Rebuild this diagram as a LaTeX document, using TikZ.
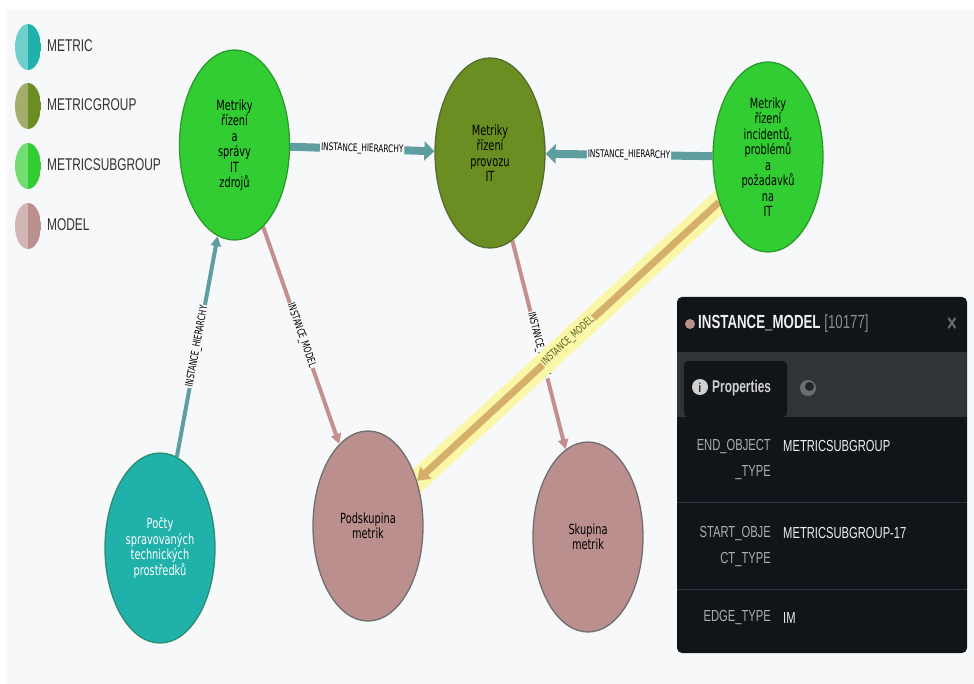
\documentclass[tikz,border=0pt]{standalone}
\usepackage{fontspec}
\usetikzlibrary{shapes.geometric,arrows.meta}
\newfontfamily\nodefont{DejaVu Sans}[FakeStretch=0.7]
\newfontfamily\uifont{Liberation Sans}[FakeStretch=0.7]

\definecolor{bgcol}{HTML}{F7F8FA}
\definecolor{metricC}{HTML}{20B2AA}
\definecolor{metricL}{HTML}{6FCFCA}
\definecolor{metricB}{HTML}{2A8F6A}
\definecolor{groupC}{HTML}{6B8E23}
\definecolor{groupL}{HTML}{A2AE6C}
\definecolor{groupB}{HTML}{556B2F}
\definecolor{subgroupC}{HTML}{32CD32}
\definecolor{subgroupL}{HTML}{72DE72}
\definecolor{subgroupB}{HTML}{2A9A2A}
\definecolor{modelC}{HTML}{BC8F8F}
\definecolor{modelL}{HTML}{D4B5B5}
\definecolor{modelB}{HTML}{6E6E6E}
\definecolor{hiercol}{HTML}{5F9EA0}
\definecolor{modelcol}{HTML}{C4908F}
\definecolor{glowcol}{HTML}{FAF7A8}
\definecolor{pickedC}{HTML}{D4B06A}
\definecolor{pickedtext}{HTML}{5C5C1A}
\definecolor{legtextcol}{HTML}{333333}
\definecolor{panelC}{HTML}{111519}
\definecolor{tabbarC}{HTML}{303337}
\definecolor{sepC}{HTML}{2B3540}
\definecolor{keyC}{HTML}{A9ADB0}
\definecolor{valC}{HTML}{EEEEEE}
\definecolor{idcol}{HTML}{8C8C8C}
\definecolor{closeC}{HTML}{6A6E72}
\definecolor{iconC}{HTML}{D0D0D0}

\pgfdeclarelayer{back}
\pgfdeclarelayer{edges}
\pgfsetlayers{back,edges,main}

\begin{document}
\begin{tikzpicture}[x=1pt, y=-1pt, line join=round,
  mnode/.style={ellipse, draw, line width=1.3pt, minimum width=110pt, minimum height=190pt,
    inner sep=0pt, align=center, font=\nodefont\fontsize{14}{15.5}\selectfont},
  hier/.style={draw=hiercol, line width=8pt, -{Triangle[length=10pt,width=19pt]}},
  hierthin/.style={draw=hiercol, line width=4pt, -{Triangle[length=10pt,width=10pt]}},
  model/.style={draw=modelcol, line width=4pt, -{Triangle[length=10pt,width=10pt]}},
  glow/.style={draw=glowcol, line width=22pt},
  picked/.style={draw=pickedC, line width=7pt, -{Triangle[length=12pt,width=16pt]}},
  elabel/.style={fill=bgcol, inner sep=1pt, sloped, font=\nodefont\fontsize{10.5}{11}\selectfont},
  legtext/.style={anchor=west, inner sep=0pt, text=legtextcol, font=\uifont\fontsize{17}{20}\selectfont},
  pkey/.style={anchor=east, inner sep=0pt, align=right, text=keyC, font=\uifont\fontsize{16}{26}\selectfont},
  pval/.style={anchor=west, inner sep=0pt, text=valC, font=\uifont\fontsize{16}{26}\selectfont}]

  % ════ background ════
  \begin{pgfonlayer}{back}
    \fill[bgcol] (7,10) rectangle (974,684);
  \end{pgfonlayer}

  % ════ legend (two-tone ellipses) ════
  \foreach \yy/\cl/\cd/\name in {47/metricL/metricC/METRIC, 106/groupL/groupC/METRICGROUP,
                                 166/subgroupL/subgroupC/METRICSUBGROUP, 226/modelL/modelC/MODEL} {
    \begin{scope}
      \clip (28,\yy) ellipse (13 and 23);
      \fill[\cl] (15,\yy-23) rectangle (28,\yy+23);
      \fill[\cd] (28,\yy-23) rectangle (41,\yy+23);
    \end{scope}
    \node[legtext] (leg-\name) at (47,\yy-1) {\name};
  }

  % ════ nodes ════
  \node[mnode, fill=subgroupC, draw=subgroupB] (spravy) at (234.5,145) {Metriky\\řízení\\a\\správy\\IT\\zdrojů};
  \node[mnode, fill=groupC, draw=groupB] (provoz) at (490,153) {Metriky\\řízení\\provozu\\IT};
  \node[mnode, fill=subgroupC, draw=subgroupB] (incid) at (768,157) {Metriky\\řízení\\incidentů,\\problémů\\a\\požadavků\\na\\IT};
  \node[mnode, fill=metricC, draw=metricB, text=white] (pocty) at (160,548) {Počty\\spravovaných\\technických\\prostředků};
  \node[mnode, fill=modelC, draw=modelB] (podsk) at (368,526) {Podskupina\\metrik};
  \node[mnode, fill=modelC, draw=modelB] (skup) at (588,537) {Skupina\\metrik};

  % ════ edges (below the nodes) ════
  \begin{pgfonlayer}{edges}
    \draw[hier] (spravy) -- node[elabel] {INSTANCE\_HIERARCHY} (provoz);
    \draw[hier] (incid) -- node[elabel] {INSTANCE\_HIERARCHY} (provoz);
    \draw[hierthin] (pocty) -- node[elabel] {INSTANCE\_HIERARCHY} (spravy);
    \draw[model] (spravy) -- node[elabel] {INSTANCE\_MODEL} (podsk);
    \draw[model] (provoz) -- node[elabel] {INSTANCE\_MODEL} (skup);
    % selected edge: yellow halo under the line
    \draw[glow] (incid.center) -- (podsk.center);
    \draw[picked] (incid) -- node[elabel, fill=glowcol, text=pickedtext] {INSTANCE\_MODEL} (podsk);
  \end{pgfonlayer}

  % ════ detail panel ════
  \fill[panelC, rounded corners=5pt] (677,297) rectangle (967,653);
  \fill[tabbarC] (677,352) rectangle (967,417);
  \fill[panelC, rounded corners=4pt] (684,417) -- (684,361) -- (787,361) -- (787,417) -- cycle;
  \draw[sepC, line width=1pt] (677,502) -- (967,502);
  \draw[sepC, line width=1pt] (677,589) -- (967,589);

  \fill[modelC] (690,324) circle (5);
  \node[anchor=west, inner sep=0pt, text=valC, font=\uifont\fontsize{19}{22}\selectfont] (title) at (698,324)
    {{\bfseries INSTANCE\_MODEL} \textcolor{idcol}{[10177]}};
  \node[inner sep=0pt, text=closeC, font=\uifont\bfseries\fontsize{24}{26}\selectfont] (closeX) at (952,325) {×};

  \fill[iconC] (700,387) circle (8);
  \node[inner sep=0pt, text=panelC, font=\uifont\bfseries\fontsize{13}{14}\selectfont] (infoI) at (700,387.5) {i};
  \node[anchor=west, inner sep=0pt, text=iconC, font=\uifont\bfseries\fontsize{17}{20}\selectfont] (propTab) at (712,388) {Properties};
  \fill[closeC] (808,388) circle (8);
  \fill[tabbarC!70!black] (809.5,386.5) circle (4.5);

  \node[pkey] (key1) at (771,460) {END\_OBJECT\\\_TYPE};
  \node[pval] (val1) at (783,446) {METRICSUBGROUP};
  \node[pkey] (key2) at (771,547) {START\_OBJE\\CT\_TYPE};
  \node[pval] (val2) at (783,533) {METRICSUBGROUP-17};
  \node[pkey] (key3) at (771,618) {EDGE\_TYPE};
  \node[pval] (val3) at (783,618) {IM};

  \path[use as bounding box] (0,0) rectangle (974,684);
\end{tikzpicture}
\end{document}
